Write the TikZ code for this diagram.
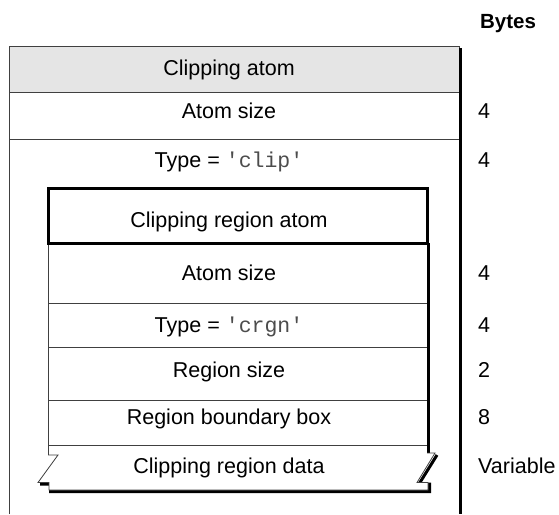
\documentclass[tikz,border=0pt]{standalone}
\usepackage{fontspec}
\setsansfont{Liberation Sans}
\setmonofont{Liberation Mono}
\tikzset{
  field/.style={font=\sffamily\fontsize{21.5}{25}\selectfont, anchor=base},
  bytes/.style={field, anchor=base west, inner sep=0pt},
  thin rule/.style={line width=0.8pt, draw=black!75},
  heavy/.style={line width=3pt},
}
\newcommand{\code}[1]{{\ttfamily\color{black!70}#1}}
\begin{document}
\begin{tikzpicture}[x=1pt, y=-1pt]
            \useasboundingbox (0,0) rectangle (559,514);

            % outer atom
            \fill[black!10] (9,46) rectangle (459,92);
            \draw[thin rule] (9,514) -- (9,46) -- (459,46) -- (459,514);
            \draw[thin rule] (9,92) -- (459,92);
            \draw[thin rule] (9,139) -- (459,139);
            \draw[heavy] (460.5,48) -- (460.5,514);

            % inner atom
            \draw[thin rule] (48,243) -- (48,455);
            \foreach \y in {303,347,400,445} \draw[thin rule] (48,\y) -- (427,\y);
            \draw[heavy] (428,243) -- (428,453);
            \draw[heavy] (40,484) -- (50.5,484) -- (50.5,491.5) -- (429.5,491.5) -- (429.5,484) -- (419,484) -- (437,455);
            \draw[thin rule, fill=white] (48,455) -- (58,455) -- (38,482.5) -- (49,482.5) -- (49,490) -- (428,490) -- (428,482.5) -- (417,482.5) -- (435,453) -- (427,453);
            \draw[heavy] (48,188) rectangle (427,243);

            \node (clip) at (229,75) [field] {Clipping atom};
            \node (size) at (229,118) [field] {Atom size};
            \node (type) at (229,167) [field] {Type = \code{'clip'}};
            \node (crgn) at (229,227) [field] {Clipping region atom};
            \node (rsize) at (229,280.5) [field] {Atom size};
            \node (rtype) at (229,332.5) [field] {Type = \code{'crgn'}};
            \node (len) at (229,377) [field] {Region size};
            \node (bbox) at (229,424) [field] {Region boundary box};
            \node (data) at (229,473) [field] {Clipping region data};

            \node (bytes) at (508,28) [field, font=\sffamily\bfseries\fontsize{20.5}{24}\selectfont] {Bytes};
            \foreach \y/\n [count=\i] in {118/4, 167/4, 280.5/4, 332.5/4, 377/2, 424/8, 473/Variable}
                \node (b\i) at (478,\y) [bytes] {\n};
        \end{tikzpicture}
\end{document}
